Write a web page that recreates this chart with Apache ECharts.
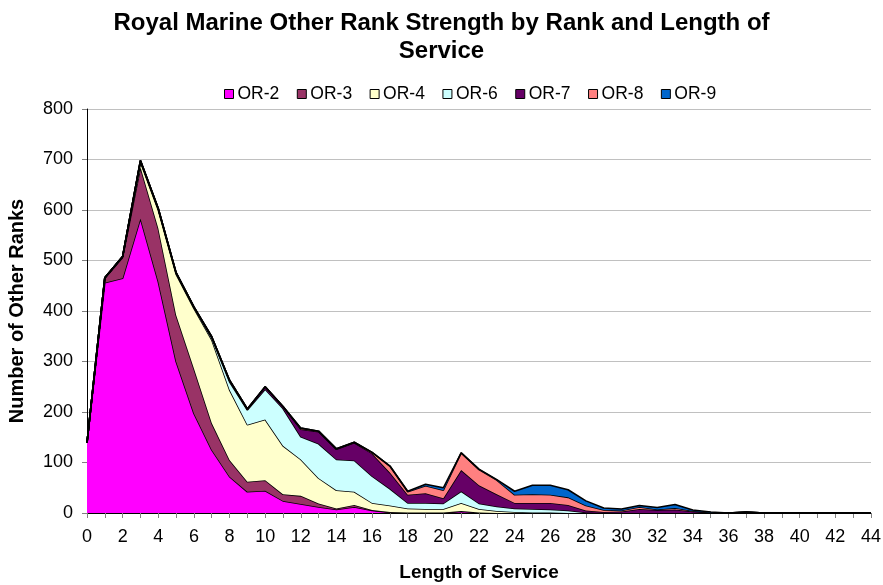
<!DOCTYPE html>
<html>
<head>
<meta charset="utf-8">
<script src="https://cdn.jsdelivr.net/npm/echarts@6/dist/echarts.min.js"></script>
<style>
html,body{margin:0;padding:0;background:#fff;}
#chart{width:883px;height:585px;}
</style>
</head>
<body>
<div id="chart"></div>
<script>
const categories = ["0","1","2","3","4","5","6","7","8","9","10","11","12","13","14","15","16","17","18","19","20","21","22","23","24","25","26","27","28","29","30","31","32","33","34","35","36","37","38","39","40","41","42","43","44"];
const seriesNames = ["OR-2","OR-3","OR-4","OR-6","OR-7","OR-8","OR-9"];
const seriesColors = ["#FF00FF","#993366","#FFFFCC","#CCFFFF","#660066","#FF8080","#0066CC"];
const or2 = [139,456,465,583,458,300,197,125,72,42,44,24,18,12,7,12,5,1,0,0,0,3,1,0,0,0,0,0,0,0,0,0,0,0,0,0,0,0,0,0,0,0,0,0,0];
const or3 = [0,9,41,102,106,92,89,53,33,20,21,13,16,7,2,4,1,1,1,1,1,1,0,0,0,0,0,0,0,0,0,0,0,0,0,0,0,0,0,0,0,0,0,0,0];
const or4 = [0,1,2,10,36,81,119,165,139,113,120,96,72,50,36,26,14,13,8,7,7,16,7,4,2,1,1,0,0,0,0,0,0,0,0,0,0,0,0,0,0,0,0,0,0];
const or6 = [0,0,0,2,2,2,2,4,16,29,60,74,45,68,61,62,53,33,11,12,11,23,11,9,7,7,6,5,1,0,0,0,0,0,0,0,0,0,0,0,0,0,0,0,0];
const or7 = [0,0,0,1,1,1,1,2,3,2,5,4,15,24,20,35,45,32,16,19,10,42,36,24,11,12,13,11,4,2,3,8,6,7,3,1,0,2,0,0,0,0,0,0,0];
const or8 = [0,0,0,0,0,0,0,0,0,0,0,0,2,1,1,1,2,13,6,15,16,34,31,28,16,17,16,15,10,4,2,4,1,3,1,0,0,0,0,0,0,0,0,0,0];
const or9 = [0,0,0,0,0,0,0,0,0,0,0,0,0,0,0,0,0,0,1,3,5,0,1,1,7,18,19,15,9,4,3,3,4,7,2,1,0,0,0,0,0,0,0,0,0];
const yTicks = {min:0, max:800, interval:100};

const seriesData = [or2, or3, or4, or6, or7, or8, or9];
const font = "'Liberation Sans', Arial, sans-serif";
const chart = echarts.init(document.getElementById('chart'), null, {renderer:'canvas'});
chart.setOption({
  animation:false,
  backgroundColor:'#ffffff',
  title:{
    text:'Royal Marine Other Rank Strength by Rank and Length of\nService',
    left:'center', top:4,
    textStyle:{fontFamily:font, fontSize:24, fontWeight:'bold', color:'#000', lineHeight:28}
  },
  legend:{
    top:80, left:219,
    icon:'rect', itemWidth:9, itemHeight:9, itemGap:17.5,
    itemStyle:{borderColor:'#000', borderWidth:1},
    textStyle:{fontFamily:font, fontSize:17.5, color:'#000', padding:[0,0,0,-1]},
    data:seriesNames
  },
  grid:{left:87, right:12, top:109, bottom:72, containLabel:false, outerBoundsMode:'none'},
  xAxis:{
    type:'category', data:categories, boundaryGap:false,
    name:'Length of Service', nameLocation:'middle', nameGap:50,
    nameTextStyle:{fontFamily:font, fontSize:19, fontWeight:'bold', color:'#000'},
    axisLine:{lineStyle:{color:'#000', width:1}},
    axisTick:{interval:0, length:5, lineStyle:{color:'#808080'}},
    axisLabel:{interval:1, fontFamily:font, fontSize:18, color:'#000', margin:15},
    splitLine:{show:false}
  },
  yAxis:{
    type:'value', min:yTicks.min, max:yTicks.max, interval:yTicks.interval,
    name:'Number of Other Ranks', nameLocation:'middle', nameGap:60,
    nameTextStyle:{fontFamily:font, fontSize:20, fontWeight:'bold', color:'#000'},
    axisLine:{show:true, lineStyle:{color:'#000', width:1}},
    axisTick:{show:true, length:5, lineStyle:{color:'#808080'}},
    axisLabel:{fontFamily:font, fontSize:18, color:'#000', margin:14},
    splitLine:{show:true, lineStyle:{color:'#c0c0c0', width:1}}
  },
  series: seriesNames.map((name, k) => ({
    name:name, type:'line', stack:'total',
    data:seriesData[k],
    color:seriesColors[k],
    showSymbol:false, symbol:'none',
    lineStyle:{color:'#000', width:1.6},
    areaStyle:{color:seriesColors[k], opacity:1},
    z:2+k
  }))
});
</script>
</body>
</html>
